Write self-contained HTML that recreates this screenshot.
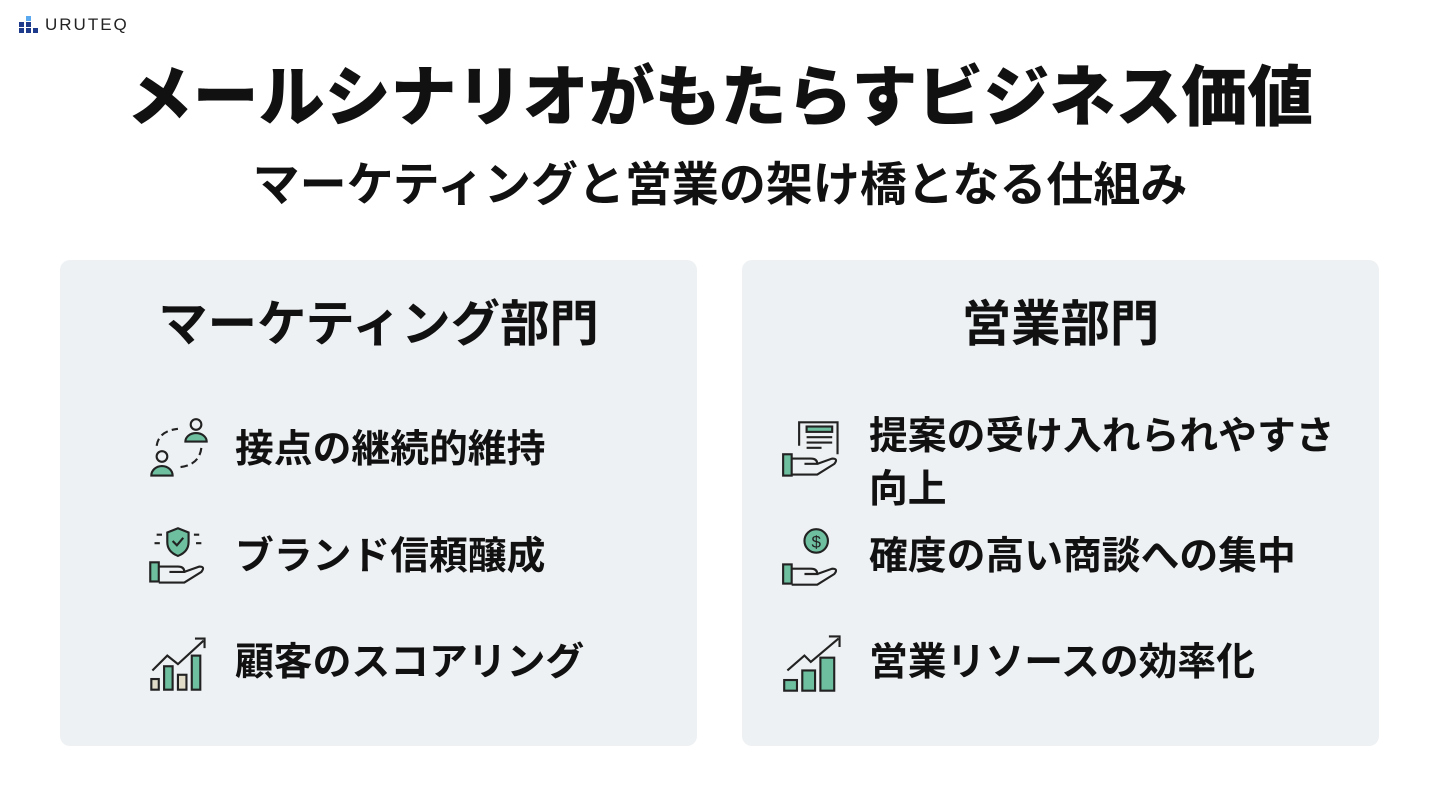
<!DOCTYPE html>
<html><head><meta charset="utf-8"><style>
body{margin:0;width:1440px;height:810px;background:#fff;position:relative;overflow:hidden;font-family:"Liberation Sans","Noto Sans CJK JP",sans-serif;color:#111}
.a{position:absolute;white-space:nowrap}
.panel{position:absolute;top:260px;width:637px;height:486px;background:#eef1f3;border-radius:10px}
.item{position:absolute;font-size:38.8px;font-weight:700;line-height:54px}
svg.i{position:absolute}
</style></head><body>
<svg class="i" style="left:18px;top:15px" width="22" height="20"><rect x="8" y="1" width="5" height="5" fill="#5aa8f0"/><rect x="1" y="7" width="5" height="5" fill="#1e3a8a"/><rect x="8" y="7" width="5" height="5" fill="#1e3a8a"/><rect x="1" y="13" width="5" height="5" fill="#1e3a8a"/><rect x="8" y="13" width="5" height="5" fill="#1e3a8a"/><rect x="15" y="13" width="5" height="5" fill="#1e3a8a"/></svg>
<div class="a" style="left:45px;top:15px;font-size:17px;letter-spacing:2px;line-height:20px;color:#222">URUTEQ</div>
<div class="a" style="left:0;width:1440px;text-align:center;top:58px;font-size:66px;font-weight:900;line-height:78px">メールシナリオがもたらすビジネス価値</div>
<div class="a" style="left:0;width:1440px;text-align:center;top:157px;font-size:47px;font-weight:700;line-height:56px">マーケティングと営業の架け橋となる仕組み</div>
<div class="panel" style="left:60px"></div>
<div class="panel" style="left:742px"></div>
<div class="a" style="left:60px;width:637px;text-align:center;top:295px;font-size:49.4px;font-weight:700;line-height:60px">マーケティング部門</div>
<div class="a" style="left:742px;width:637px;text-align:center;top:295px;font-size:49.4px;font-weight:700;line-height:60px">営業部門</div>
<div class="item a" style="left:235px;top:423px">接点の継続的維持</div>
<div class="item a" style="left:235px;top:530px">ブランド信頼醸成</div>
<div class="item a" style="left:235px;top:636px">顧客のスコアリング</div>
<div class="item a" style="left:869px;top:410px">提案の受け入れられやすさ</div>
<div class="item a" style="left:869px;top:463px">向上</div>
<div class="item a" style="left:869px;top:530px">確度の高い商談への集中</div>
<div class="item a" style="left:869px;top:636px">営業リソースの効率化</div>
<svg class="i" style="left:146px;top:416px" width="66" height="66" viewBox="0 0 62 62" fill="#6dbfa0" stroke="#222" stroke-width="2"><circle cx="47" cy="8" r="5" fill="none"/><path d="M37 24a10 8 0 0 1 20 0z"/><circle cx="15" cy="38" r="5" fill="none"/><path d="M5 56a10 9 0 0 1 20 0z"/><path d="M10 28q2-14 20-16M52 30q-2 16-20 18" fill="none" stroke-dasharray="7 4"/></svg>
<svg class="i" style="left:146px;top:524px" width="66" height="66" viewBox="0 0 62 62" fill="#6dbfa0" stroke="#222" stroke-width="2"><path d="M30 4l10 4v9q0 9-10 13q-10-4-10-13v-9z"/><path d="M25 16l4 4l6-7" fill="none"/><rect x="4" y="36" width="8" height="18"/><path d="M12 40h18q6 0 6 5h-14M36 45l14-5q6 0 2 5l-16 10h-24" fill="none"/><path d="M10 10h5M8 18h5M45 10h5M47 18h5" fill="none"/></svg>
<svg class="i" style="left:146px;top:632px" width="66" height="60" viewBox="0 0 62 56" stroke="#222" stroke-width="2"><path d="M6 36l14-14l10 8l24-22" fill="none"/><path d="M46 6h9v9" fill="none"/><rect x="5" y="44" width="7" height="10" fill="#e0dcc8"/><rect x="17" y="32" width="8" height="22" fill="#6dbfa0"/><rect x="30" y="40" width="8" height="14" fill="#e0dcc8"/><rect x="43" y="22" width="8" height="32" fill="#6dbfa0"/></svg>
<svg class="i" style="left:781px;top:418px" width="64" height="64" viewBox="0 0 60 60" stroke="#222" stroke-width="2"><path d="M17 26v-22h36v30" fill="#eef1f3"/><rect x="24" y="8" width="24" height="5" fill="#6dbfa0"/><path d="M24 18h24M24 23h24M24 28h14" fill="none"/><rect x="2" y="34" width="8" height="20" fill="#6dbfa0"/><path d="M10 38h18q6 0 6 5h-12M34 43l14-5q6 0 2 5l-16 10h-24" fill="none"/></svg>
<svg class="i" style="left:781px;top:526px" width="64" height="64" viewBox="0 0 60 60" stroke="#222" stroke-width="2"><circle cx="33" cy="14" r="11" fill="#6dbfa0"/><text x="33" y="20" font-size="16" text-anchor="middle" fill="#222" stroke="none" font-family="Liberation Sans">$</text><rect x="2" y="36" width="8" height="18" fill="#6dbfa0"/><path d="M10 40h18q6 0 6 5h-12M34 45l14-5q6 0 2 5l-16 10h-24" fill="none"/></svg>
<svg class="i" style="left:781px;top:632px" width="66" height="62" viewBox="0 0 62 58" stroke="#222" stroke-width="2"><path d="M6 36l16-14l6 6l26-22" fill="none"/><path d="M45 4h10v10" fill="none"/><rect x="3" y="45" width="12" height="10" fill="#6dbfa0"/><rect x="20" y="36" width="12" height="19" fill="#6dbfa0"/><rect x="37" y="24" width="13" height="31" fill="#6dbfa0"/></svg>
</body></html>
